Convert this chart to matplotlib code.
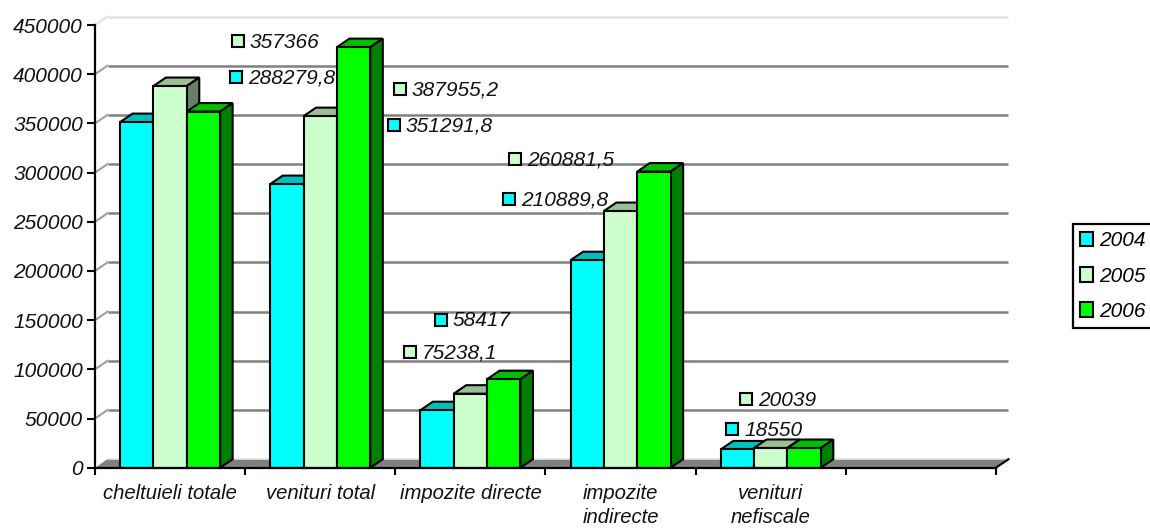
import matplotlib
matplotlib.use("Agg")
import matplotlib.pyplot as plt
from matplotlib.patches import Polygon, Patch

plt.rcParams['font.family'] = ['Liberation Sans', 'DejaVu Sans']
plt.rcParams['font.style'] = 'italic'

categories = ["cheltuieli totale", "venituri total", "impozite directe",
              "impozite\nindirecte", "venituri\nnefiscale", ""]
years = ["2004", "2005", "2006"]
v2004 = [351291.8, 288279.8, 58417, 210889.8, 18550]
v2005 = [387955.2, 357366, 75238.1, 260881.5, 20039]
v2006 = [362000, 427500, 90000, 301000, 20000]
series = [v2004, v2005, v2006]
y_ticks = list(range(0, 450001, 50000))

front = ["#00FFFF", "#CCFFCC", "#00FF00"]
top = ["#00BFBF", "#99BF99", "#00BF00"]
side = ["#008080", "#668066", "#008000"]

# data labels: text, series index, marker-centre pixel (x, y from top)
label_text = ["357366", "288279,8", "387955,2", "351291,8", "260881,5",
              "210889,8", "58417", "75238,1", "20039", "18550"]
label_series = [1, 0, 1, 0, 1, 0, 0, 1, 1, 0]
label_px = [(238, 41), (236, 77), (400, 89), (394, 125), (515, 159),
            (509, 199), (441, 320), (410, 352), (746, 399), (732, 429)]

W, H = 1150, 528
L, R, T, B = 95, 996, 25, 467.7
FS = 15
fig = plt.figure(figsize=(W / 100, H / 100), dpi=100, facecolor="white")
ax = fig.add_axes([L / W, 1 - B / H, (R - L) / W, (B - T) / H])
ax.set_xlim(0, 6)
ax.set_ylim(0, 450000)
ax.patch.set_visible(False)

dx = 12.5 / ((R - L) / 6)          # depth in category units
dy = 8.5 / ((B - T) / 450000)      # depth in value units
bar_w = 1 / 4.5
gap = 0.25 * bar_w * 3
LW = 1.5
gray = "#808080"
light = "#E2E2E2"

# floor
ax.add_patch(Polygon([(0, 0), (dx, dy), (6 + dx, dy), (6, 0)], closed=True,
                     facecolor=gray, edgecolor="none", zorder=1, clip_on=False))
ax.plot([dx, 6 + dx], [dy, dy], color=light, lw=1.2, zorder=1.1, clip_on=False)
# wall grid
for v in y_ticks[1:]:
    c = light if v == 450000 else gray
    ax.plot([dx, 6 + dx], [v + dy, v + dy], color=c, lw=1.8, zorder=1, clip_on=False,
            solid_capstyle="butt")
    ax.plot([0, dx], [v, v + dy], color=light if v == 450000 else "#A0A0A0", lw=1.5, zorder=1,
            clip_on=False)
ax.plot([6, 6 + dx], [0, dy], color="black", lw=1.5, zorder=1.2, clip_on=False)

# bars
for s, vals in enumerate(series):
    xs = [i + gap + s * bar_w for i in range(len(vals))]
    for x, v in zip(xs, vals):
        ax.add_patch(Polygon([(x, v), (x + dx, v + dy), (x + bar_w + dx, v + dy), (x + bar_w, v)],
                             closed=True, facecolor=top[s], edgecolor="black", lw=LW,
                             zorder=2 + s + 0.1, clip_on=False, joinstyle="miter"))
        ax.add_patch(Polygon([(x + bar_w, 0), (x + bar_w + dx, dy), (x + bar_w + dx, v + dy), (x + bar_w, v)],
                             closed=True, facecolor=side[s], edgecolor="black", lw=LW,
                             zorder=2 + s + 0.1, clip_on=False, joinstyle="miter"))
    ax.bar(xs, vals, width=bar_w, align="edge", color=front[s], edgecolor="black",
           linewidth=LW, zorder=2 + s + 0.2, clip_on=False)

# axes
for name in ("top", "right"):
    ax.spines[name].set_visible(False)
for name in ("left", "bottom"):
    ax.spines[name].set_linewidth(1.6)
    ax.spines[name].set_zorder(8)
ax.set_yticks(y_ticks)
ax.set_yticklabels([str(v) for v in y_ticks], fontsize=FS, color="#111111")
ax.tick_params(axis="y", length=5.8, width=1.5, pad=3)
ax.set_xticks(range(7))
ax.set_xticklabels([])
ax.tick_params(axis="x", which="major", length=5, width=1.5)
ax.set_xticks([i + 0.5 for i in range(6)], minor=True)
ax.set_xticklabels(categories, minor=True, fontsize=14.6, color="#111111",
                   linespacing=1.38, va="top")
ax.tick_params(axis="x", which="minor", length=0, pad=11.5)

# data labels
for txt, s, (px, py) in zip(label_text, label_series, label_px):
    fx, fy = px / W, 1 - py / H
    fig.add_artist(plt.Line2D([fx], [fy], marker="s", ms=8.5, mfc=front[s], mec="black",
                              mew=1.5, ls="none", transform=fig.transFigure, zorder=10))
    fig.text((px + 12) / W, fy - 1 / H, txt, fontsize=FS, va="center", ha="left", color="#111111", zorder=10)

# legend
handles = [Patch(facecolor=front[i], edgecolor="black", linewidth=1.5, label=years[i]) for i in range(3)]
leg = fig.legend(handles=handles, loc="upper left", bbox_to_anchor=(1073 / W, 1 - 224 / H),
                 borderaxespad=0, fontsize=FS, frameon=True, fancybox=False, edgecolor="black",
                 framealpha=1, handlelength=0.6, handleheight=0.7, handletextpad=0.3,
                 labelspacing=0.78, borderpad=0.35)
leg.get_frame().set_linewidth(1.6)

fig.savefig("out.png", dpi=100)
